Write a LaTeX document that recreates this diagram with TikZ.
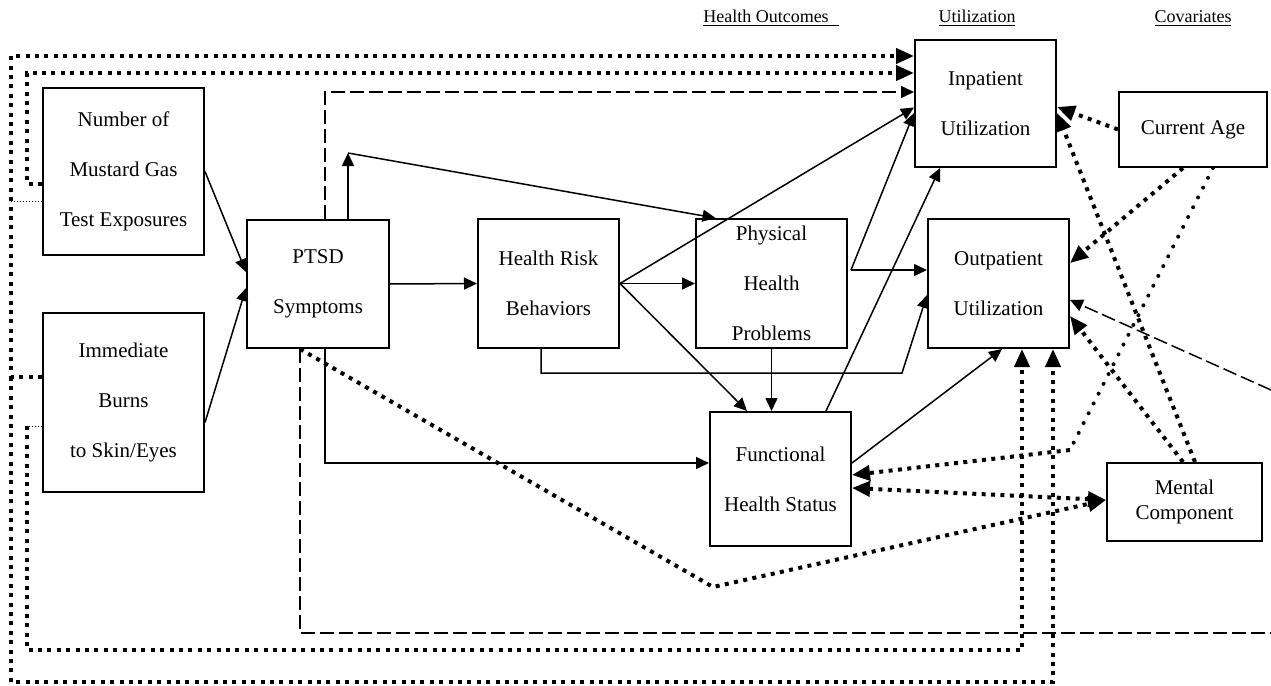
\documentclass[tikz,border=0pt]{standalone}
\usepackage{fontspec}
\setmainfont{Liberation Serif}
\usetikzlibrary{arrows.meta}

\begin{document}
\begin{tikzpicture}[x=0.5pt,y=-0.5pt,
    hd/.tip={Triangle[length=6.5pt,width=6pt]},
    bg/.tip={Triangle[length=9pt,width=7.5pt]},
    box/.style={draw,line width=1pt,align=center,inner sep=0pt,font=\fontsize{10.5}{25}\selectfont},
    hdr/.style={font=\fontsize{9}{11}\selectfont,anchor=base},
    arr/.style={line width=0.75pt,-hd},
    dsh/.style={line width=0.75pt,dash pattern=on 7pt off 2.5pt},
    sq/.style={line width=2pt,dash pattern=on 2pt off 2.7pt},
    rnd/.style={line width=2pt,line cap=round,dash pattern=on 0pt off 5.5pt},
    thin/.style={line width=0.5pt,dash pattern=on 0.5pt off 1pt}]
    \useasboundingbox (0,0) rectangle (1271,686);
    \node[hdr] (hout) at (771,22) {\underline{Health Outcomes\hspace{5pt}}};
    \node[hdr] (hutil) at (977,22) {\underline{Utilization}};
    \node[hdr] (hcov) at (1193,22) {\underline{Covariates}};

    \node[box,minimum width=80.5pt,minimum height=83.5pt] (mustard) at (123.5,171.5) {Number of\\Mustard Gas\\Test Exposures};
    \node[box,minimum width=80.5pt,minimum height=89.5pt] (burns) at (123.5,402.5) {Immediate\\Burns\\to Skin/Eyes};
    \node[box,minimum width=71pt,minimum height=64pt] (ptsd) at (318,284) {PTSD\\Symptoms};
    \node[box,minimum width=70.5pt,minimum height=64.5pt] (hrisk) at (548.5,283.5) {Health Risk\\Behaviors};
    \node[box,minimum width=75.5pt,minimum height=64.5pt] (phys) at (771.5,283.5) {Physical\\Health\\Problems};
    \node[box,minimum width=70.5pt,minimum height=67pt] (func) at (780.5,479) {Functional\\Health Status};
    \node[box,minimum width=70.5pt,minimum height=63.5pt] (inpat) at (985.5,103.5) {Inpatient\\Utilization};
    \node[box,minimum width=70.5pt,minimum height=64.5pt] (outpat) at (998.5,283.5) {Outpatient\\Utilization};
    \node[box,minimum width=74pt,minimum height=37.5pt] (curage) at (1193,129.5) {Current Age};
    \node[box,minimum width=77.5pt,minimum height=39pt,font=\fontsize{10.5}{12.5}\selectfont] (mental) at (1184.5,502) {Mental\\Component};

    \coordinate (ptsdup) at (348,153);
    \coordinate (physout) at ([xshift=1.5pt,yshift=6.75pt]phys.east);
    \coordinate (hrbend) at (902,373);
    \coordinate (edgeR) at (1271,390);
    \coordinate (edgeB) at (1271,633);
    \coordinate (outerT) at (11,56);
    \coordinate (outerM) at (11,377);
    \coordinate (outerB) at (11,682);
    \coordinate (mustO) at (11,201);
    \coordinate (innerT) at (27,73);
    \coordinate (innerM) at (27,426);
    \coordinate (innerB) at (27,650);
    \coordinate (agebend) at (1070,450);
    \coordinate (vbend) at (713,587);

    \draw[arr] (mustard.east) -- ([yshift=6pt]ptsd.west);
    \draw[arr] ([yshift=-10pt]burns.east) -- ([yshift=-2pt]ptsd.west);
    \draw[arr] ([xshift=15pt]ptsd.north) -- (ptsdup);
    \draw[arr] (ptsdup) -- ([xshift=-28pt]phys.north);
    \draw[arr] (ptsd.east) -- (hrisk.west);
    \draw[arr] (hrisk.east) -- (phys.west);
    \draw[arr] (hrisk.east) -- ([yshift=-2pt]inpat.west);
    \draw[arr] (hrisk.east) -- ([xshift=-16.75pt]func.north);
    \draw[arr] ([xshift=-3.75pt]hrisk.south) |- (hrbend) -- ([yshift=-5.75pt]outpat.west);
    \draw[arr] (phys.south) -- (phys.south |- func.north);
    \draw[arr] (physout) -- ([yshift=6.75pt]outpat.west);
    \draw[arr] (physout) -- ([yshift=-4.75pt]inpat.west);
    \draw[arr] ([xshift=22.75pt]func.north) -- ([xshift=-22.75pt]inpat.south);
    \draw[arr] ([yshift=8pt]func.east) -- ([xshift=1.75pt]outpat.south);
    \draw[arr] ([xshift=3.5pt]ptsd.south) |- ([yshift=8pt]func.west);

    \draw[dsh,-hd] ([xshift=3.5pt]ptsd.north) |- ([yshift=5.75pt]inpat.west);
    \draw[dsh,-hd] (edgeR) -- ([yshift=-8.25pt]outpat.east);
    \draw[dsh] ([xshift=-9pt]ptsd.south) |- (edgeB);

    \draw[sq,-bg] ([yshift=12.75pt]burns.west) -- (outerM) |- ([yshift=23.75pt]inpat.west);
    \draw[sq,-bg] (outerM) -- (outerB) -| ([xshift=27.25pt]outpat.south);
    \draw[thin] ([yshift=-14.75pt]mustard.west) -- (mustO);
    \draw[sq,-bg] ([yshift=-6.25pt]mustard.west) -| (innerT) -- ([yshift=15.25pt]inpat.west);
    \draw[thin] ([yshift=-11.75pt]burns.west) -- (innerM);
    \draw[sq,-bg] (innerM) -- (innerB) -| ([xshift=11.75pt]outpat.south);

    \draw[sq,-bg] (curage.west) -- ([yshift=-1.75pt]inpat.east);
    \draw[sq,-bg] ([xshift=-5pt]curage.south) -- ([yshift=10.25pt]outpat.east);
    \draw[rnd] ([xshift=10pt]curage.south) -- (agebend);
    \draw[sq,-bg] (agebend) -- ([yshift=2pt]func.east);
    \draw[sq,-bg] ([xshift=5.25pt]mental.north) -- ([yshift=-4.75pt]inpat.east);
    \draw[sq,-bg] ([xshift=-0.75pt]mental.north) -- ([yshift=-16.25pt]outpat.east);
    \draw[sq,bg-bg] ([yshift=-4.5pt]func.east) -- ([yshift=1pt]mental.west);
    \draw[sq,-bg] ([xshift=-9pt]ptsd.south) -- (vbend) -- ([yshift=1pt]mental.west);
\end{tikzpicture}
\end{document}
